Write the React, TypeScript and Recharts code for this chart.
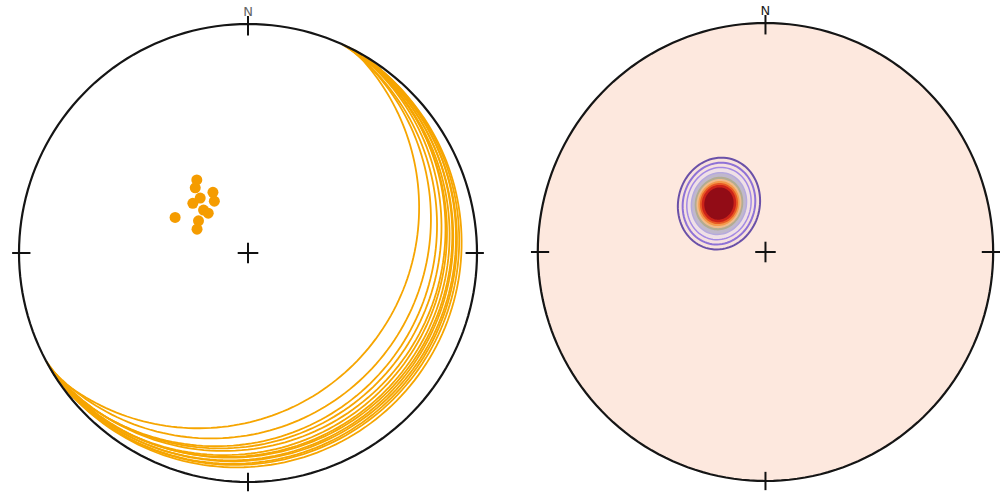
import React from "react";
import { ScatterChart, Scatter, XAxis, YAxis, ReferenceDot, Label } from "recharts";

// great-circle traces on the left net: where each leaves the rim (azimuth, deg)
// and how far from the centre it reaches at its middle (net radii)
const traceStartAz = [27, 26, 25, 27, 28, 26, 24, 27, 25, 29, 26, 28, 25];
const traceEndAz = [238, 240, 237, 239, 241, 236, 239, 242, 238, 240, 237, 239, 241];
const traceMidR = [0.67, 0.74, 0.78, 0.8, 0.82, 0.835, 0.85, 0.86, 0.87, 0.88, 0.89, 0.9, 0.915];

// poles on the left net (degrees)
const poleTrends = [325, 321, 330, 327, 296, 312, 319, 314, 315, 303, 295];
const polePlunges = [58, 60, 65, 68, 61, 63.5, 64, 68, 70, 69, 70];

// density peak on the right net
const peakTrend = 316;
const peakPlunge = 66;

// contour levels, outermost first; spread in net radii
const contourLevels = [1, 2, 3, 4, 5, 6, 7, 8, 9, 10];
const contourSpreadX = [0.179, 0.158, 0.14, 0.12, 0.106, 0.098, 0.09, 0.083, 0.075, 0.064];
const contourSpreadY = [0.202, 0.18, 0.159, 0.136, 0.118, 0.108, 0.099, 0.09, 0.082, 0.071];

const contourFills = [
  "#f8e2dc",
  "#f5e0e0",
  "#efe0e6",
  "#c0b8cc",
  "#b2ac92",
  "#efbb8c",
  "#f39a4c",
  "#e95a25",
  "#cc2319",
  "#920c16",
];
const contourStrokes = ["#6a50a8", "#8f72d6", "#a48ae4", "#b5a9de", "none", "none", "none", "none", "none", "none"];

const ARC = "#f6a500";
const R_PX = 229;
const D = Math.PI / 180;

type Pt = { x: number; y: number };

// lower hemisphere, equal area
const project = (trend: number, plunge: number): Pt => {
  const r = Math.SQRT2 * Math.sin(((90 - plunge) * D) / 2);
  return { x: r * Math.sin(trend * D), y: r * Math.cos(trend * D) };
};

// circular arc through both rim points and the middle point
const traceArc = (a1: number, a2: number, mr: number): Pt[] => {
  const p1 = project(a1, 0);
  const p2 = project(a2, 0);
  const am = ((a1 + a2) / 2) * D;
  const pm = { x: mr * Math.sin(am), y: mr * Math.cos(am) };
  const [ax, ay, bx, by, cx, cy] = [p1.x, p1.y, p2.x, p2.y, pm.x, pm.y];
  const d = 2 * (ax * (by - cy) + bx * (cy - ay) + cx * (ay - by));
  const a2s = ax * ax + ay * ay;
  const b2s = bx * bx + by * by;
  const c2s = cx * cx + cy * cy;
  const ux = (a2s * (by - cy) + b2s * (cy - ay) + c2s * (ay - by)) / d;
  const uy = (a2s * (cx - bx) + b2s * (ax - cx) + c2s * (bx - ax)) / d;
  const rho = Math.hypot(ax - ux, ay - uy);
  const t1 = Math.atan2(ay - uy, ax - ux);
  const t2 = Math.atan2(by - uy, bx - ux);
  const tm = Math.atan2(cy - uy, cx - ux);
  const TAU = Math.PI * 2;
  const mod = (v: number) => ((v % TAU) + TAU) % TAU;
  const d12 = mod(t2 - t1);
  const sweep = mod(tm - t1) < d12 ? d12 : d12 - TAU;
  const pts: Pt[] = [];
  for (let k = 0; k <= 120; k++) {
    const t = t1 + (sweep * k) / 120;
    pts.push({ x: ux + rho * Math.cos(t), y: uy + rho * Math.sin(t) });
  }
  return pts;
};

const primitive: Pt[] = [];
for (let a = 0; a <= 360; a += 2) primitive.push(project(a, 0));

const contour = (i: number): Pt[] => {
  const c = project(peakTrend, peakPlunge);
  const rot = 15 * D;
  const pts: Pt[] = [];
  for (let t = 0; t <= 360; t += 4) {
    const ex = contourSpreadX[i] * Math.cos(t * D);
    const ey = contourSpreadY[i] * Math.sin(t * D);
    pts.push({
      x: c.x + ex * Math.cos(rot) + ey * Math.sin(rot),
      y: c.y - ex * Math.sin(rot) + ey * Math.cos(rot),
    });
  }
  return pts;
};

const poles = poleTrends.map((t, i) => project(t, polePlunges[i]));

// N, S, E, W rim ticks and the centre cross
const tickSegments: Pt[][] = [
  [{ x: 0, y: 0.95 }, { x: 0, y: 1.035 }],
  [{ x: 0, y: -0.96 }, { x: 0, y: -1.04 }],
  [{ x: 0.95, y: 0 }, { x: 1.03, y: 0 }],
  [{ x: -0.95, y: 0 }, { x: -1.03, y: 0 }],
  [{ x: -0.045, y: 0 }, { x: 0.045, y: 0 }],
  [{ x: 0, y: -0.045 }, { x: 0, y: 0.045 }],
];

const noShape = () => <g />;

function Net({
  cx,
  cy,
  children,
  fill,
  labelColor,
}: {
  cx: number;
  cy: number;
  children?: React.ReactNode;
  fill: string;
  labelColor: string;
}) {
  const w = 500;
  const h = 497;
  return (
    <ScatterChart width={w} height={h} margin={{ top: 0, right: 0, bottom: 0, left: 0 }}>
      <XAxis type="number" dataKey="x" hide domain={[-cx / R_PX, (w - cx) / R_PX]} />
      <YAxis type="number" dataKey="y" hide domain={[-(h - cy) / R_PX, cy / R_PX]} />
      <Scatter
        data={primitive}
        shape={noShape}
        line={{ stroke: "none", fill }}
        lineType="joint"
        isAnimationActive={false}
        legendType="none"
      />
      {children}
      <Scatter
        data={primitive}
        shape={noShape}
        line={{ stroke: "#151515", strokeWidth: 2.2, fill: "none" }}
        lineType="joint"
        isAnimationActive={false}
        legendType="none"
      />
      {tickSegments.map((seg, i) => (
        <Scatter
          key={`tk-${i}`}
          data={seg}
          shape={noShape}
          line={{ stroke: "#111", strokeWidth: 2, fill: "none" }}
          lineType="joint"
          isAnimationActive={false}
          legendType="none"
        />
      ))}
      <ReferenceDot x={0} y={1} r={0} ifOverflow="visible" stroke="none">
        <Label value="N" position="top" offset={8} fill={labelColor} fontSize={13} fontFamily="DejaVu Sans" />
      </ReferenceDot>
    </ScatterChart>
  );
}

export default function App() {
  return (
    <div
      style={{
        position: "absolute",
        left: 0,
        top: 0,
        width: 1000,
        height: 497,
        background: "#fff",
        overflow: "hidden",
      }}
    >
      <div style={{ position: "absolute", left: 0, top: 0 }}>
        <Net cx={248} cy={253} fill="#ffffff" labelColor="#666">
          {traceStartAz.map((a, i) => (
            <Scatter
              key={`gc-${i}`}
              data={traceArc(a, traceEndAz[i], traceMidR[i])}
              shape={noShape}
              line={{ stroke: ARC, strokeWidth: 1.8, fill: "none" }}
              lineType="joint"
              isAnimationActive={false}
              legendType="none"
            />
          ))}
          <Scatter
            data={poles}
            isAnimationActive={false}
            legendType="none"
            shape={(p: any) => <circle cx={p.cx} cy={p.cy} r={5.5} fill="#f59c00" />}
          />
        </Net>
      </div>
      <div style={{ position: "absolute", left: 500, top: 0 }}>
        <Net cx={267} cy={252} fill="#fde8de" labelColor="#222">
          {contourLevels.map((lv, i) => (
            <Scatter
              key={`ct-${lv}`}
              data={contour(i)}
              shape={noShape}
              line={{
                stroke: contourStrokes[i],
                strokeWidth: i < 2 ? 2 : 1.5,
                fill: contourFills[i],
              }}
              lineType="joint"
              isAnimationActive={false}
              legendType="none"
            />
          ))}
        </Net>
      </div>
    </div>
  );
}
